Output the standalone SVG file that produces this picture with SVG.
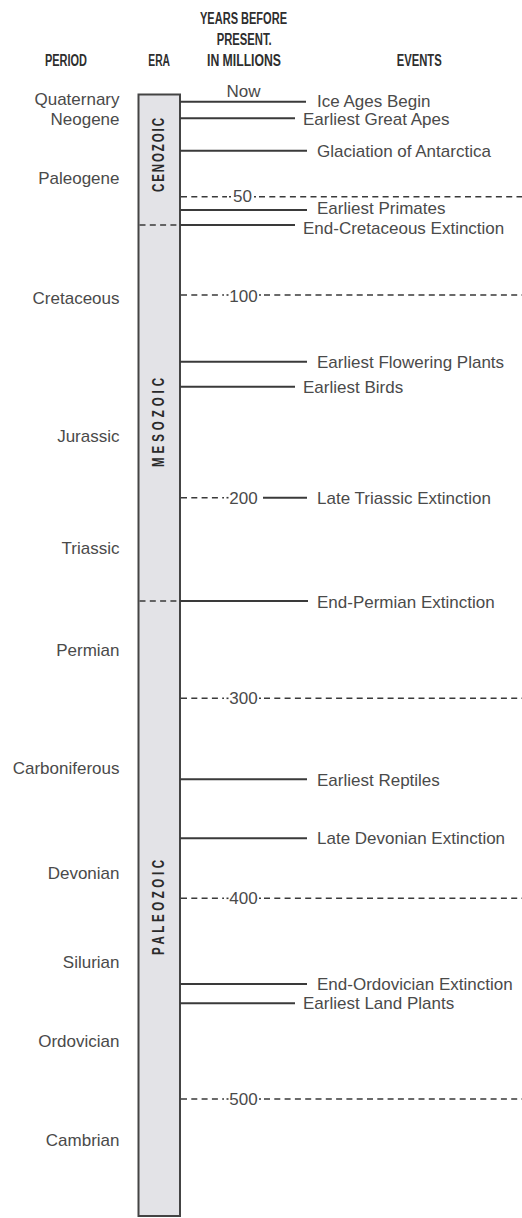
<svg xmlns="http://www.w3.org/2000/svg" width="522" height="1218" viewBox="0 0 522 1218">
<style>
  .hdr { font-family: "Liberation Sans", Arial, sans-serif; font-weight: bold; font-size: 16px; fill: #2e2e2e; }
  .per { font-family: "Liberation Sans", Arial, sans-serif; font-size: 17px; fill: #4a4a4a; text-anchor: end; }
  .ev { font-family: "Liberation Sans", Arial, sans-serif; font-size: 17px; fill: #4a4a4a; }
  .num { font-family: "Liberation Sans", Arial, sans-serif; font-size: 17px; fill: #4a4a4a; text-anchor: middle; }
  .era { font-family: "Liberation Sans", Arial, sans-serif; font-weight: bold; font-size: 16px; fill: #2a2a2a; text-anchor: middle; }
  .bar { fill: #e3e3e7; stroke: #444; stroke-width: 2; }
  .solid { stroke: #3a3a3a; stroke-width: 2; fill: none; }
  .dash { stroke: #3a3a3a; stroke-width: 1.6; stroke-dasharray: 6 4.3; fill: none; }
  .dot { stroke: #3a3a3a; stroke-width: 1.6; fill: none; }
</style>

<g id="headers">
  <text class="hdr" x="200" y="24" textLength="87" lengthAdjust="spacingAndGlyphs">YEARS BEFORE</text>
  <text class="hdr" x="216.7" y="45" textLength="55" lengthAdjust="spacingAndGlyphs">PRESENT.</text>
  <text class="hdr" x="207" y="66" textLength="74" lengthAdjust="spacingAndGlyphs">IN MILLIONS</text>
  <text class="hdr" x="45" y="66" textLength="42" lengthAdjust="spacingAndGlyphs">PERIOD</text>
  <text class="hdr" x="148.3" y="66" textLength="21.7" lengthAdjust="spacingAndGlyphs">ERA</text>
  <text class="hdr" x="396.7" y="66" textLength="45" lengthAdjust="spacingAndGlyphs">EVENTS</text>
</g>

<g id="era-bar">
  <rect class="bar" x="138.5" y="94.5" width="41.5" height="1121.5"/>
</g>

<g id="era-cenozoic">
  <text class="era" transform="translate(164.3,155) rotate(-90) scale(0.72,1)" textLength="102.8" lengthAdjust="spacing">CENOZOIC</text>
</g>
<g id="era-mesozoic">
  <text class="era" transform="translate(164.3,422.5) rotate(-90) scale(0.72,1)" textLength="123.6" lengthAdjust="spacing">MESOZOIC</text>
</g>
<g id="era-paleozoic">
  <text class="era" transform="translate(164.3,907.5) rotate(-90) scale(0.72,1)" textLength="132" lengthAdjust="spacing">PALEOZOIC</text>
</g>

<g id="periods">
  <text class="per" x="119.5" y="105">Quaternary</text>
  <text class="per" x="119.5" y="125">Neogene</text>
  <text class="per" x="119.5" y="184">Paleogene</text>
  <text class="per" x="119.5" y="304">Cretaceous</text>
  <text class="per" x="119.5" y="441.5">Jurassic</text>
  <text class="per" x="119.5" y="554">Triassic</text>
  <text class="per" x="119.5" y="656">Permian</text>
  <text class="per" x="119.5" y="773.5">Carboniferous</text>
  <text class="per" x="119.5" y="879">Devonian</text>
  <text class="per" x="119.5" y="967.5">Silurian</text>
  <text class="per" x="119.5" y="1047">Ordovician</text>
  <text class="per" x="119.5" y="1146">Cambrian</text>
</g>

<g id="connectors">
  <!-- era boundaries inside bar -->
  <line class="dash" x1="139.5" y1="225" x2="180" y2="225"/>
  <line class="dash" x1="139.5" y1="601" x2="180" y2="601"/>
  <!-- event lines -->
  <line class="solid" x1="180" y1="101.7" x2="306" y2="101.7"/>
  <line class="solid" x1="180" y1="118.3" x2="295" y2="118.3"/>
  <line class="solid" x1="180" y1="150.7" x2="307" y2="150.7"/>
  <line class="solid" x1="180" y1="210" x2="307" y2="210"/>
  <line class="solid" x1="180" y1="225" x2="295" y2="225"/>
  <line class="solid" x1="180" y1="361.7" x2="307" y2="361.7"/>
  <line class="solid" x1="180" y1="386.7" x2="295" y2="386.7"/>
  <line class="solid" x1="263" y1="497.7" x2="307" y2="497.7"/>
  <line class="solid" x1="180" y1="601" x2="308" y2="601"/>
  <line class="solid" x1="180" y1="779.3" x2="307" y2="779.3"/>
  <line class="solid" x1="180" y1="838.3" x2="307" y2="838.3"/>
  <line class="solid" x1="180" y1="984" x2="307" y2="984"/>
  <line class="solid" x1="180" y1="1003.3" x2="295" y2="1003.3"/>
  <!-- time scale dashed lines -->
  <line class="dash" x1="181" y1="196.7" x2="227" y2="196.7"/>
  <line class="dot" x1="229" y1="196.7" x2="231" y2="196.7"/>
  <line class="dot" x1="254" y1="196.7" x2="256" y2="196.7"/>
  <line class="dash" x1="259" y1="196.7" x2="522" y2="196.7"/>

  <line class="dash" x1="181" y1="295" x2="224" y2="295"/>
  <line class="dot" x1="226.5" y1="295" x2="228.5" y2="295"/>
  <line class="dot" x1="259" y1="295" x2="261" y2="295"/>
  <line class="dash" x1="264" y1="295" x2="522" y2="295"/>

  <line class="dash" x1="181" y1="497.7" x2="224" y2="497.7"/>
  <line class="dot" x1="226.5" y1="497.7" x2="228.5" y2="497.7"/>

  <line class="dash" x1="181" y1="698.3" x2="224" y2="698.3"/>
  <line class="dot" x1="226.5" y1="698.3" x2="228.5" y2="698.3"/>
  <line class="dot" x1="259" y1="698.3" x2="261" y2="698.3"/>
  <line class="dash" x1="264" y1="698.3" x2="522" y2="698.3"/>

  <line class="dash" x1="181" y1="898.3" x2="224" y2="898.3"/>
  <line class="dot" x1="226.5" y1="898.3" x2="228.5" y2="898.3"/>
  <line class="dot" x1="259" y1="898.3" x2="261" y2="898.3"/>
  <line class="dash" x1="264" y1="898.3" x2="522" y2="898.3"/>

  <line class="dash" x1="181" y1="1099" x2="224" y2="1099"/>
  <line class="dot" x1="226.5" y1="1099" x2="228.5" y2="1099"/>
  <line class="dot" x1="259" y1="1099" x2="261" y2="1099"/>
  <line class="dash" x1="264" y1="1099" x2="522" y2="1099"/>
</g>

<g id="scale-labels">
  <text class="num" x="243.5" y="97">Now</text>
  <text class="num" x="242.5" y="201.7">50</text>
  <text class="num" x="243.5" y="301.7">100</text>
  <text class="num" x="243.5" y="503.5">200</text>
  <text class="num" x="243.5" y="704">300</text>
  <text class="num" x="243.5" y="904">400</text>
  <text class="num" x="243.5" y="1105">500</text>
</g>

<g id="events">
  <text class="ev" x="317" y="107">Ice Ages Begin</text>
  <text class="ev" x="303" y="125">Earliest Great Apes</text>
  <text class="ev" x="317" y="157">Glaciation of Antarctica</text>
  <text class="ev" x="317" y="213.5">Earliest Primates</text>
  <text class="ev" x="303" y="233.5">End-Cretaceous Extinction</text>
  <text class="ev" x="317" y="368">Earliest Flowering Plants</text>
  <text class="ev" x="303" y="393">Earliest Birds</text>
  <text class="ev" x="317" y="503.5">Late Triassic Extinction</text>
  <text class="ev" x="317" y="607.5">End-Permian Extinction</text>
  <text class="ev" x="317" y="785.5">Earliest Reptiles</text>
  <text class="ev" x="317" y="844">Late Devonian Extinction</text>
  <text class="ev" x="317" y="990">End-Ordovician Extinction</text>
  <text class="ev" x="303" y="1009.3">Earliest Land Plants</text>
</g>
</svg>
